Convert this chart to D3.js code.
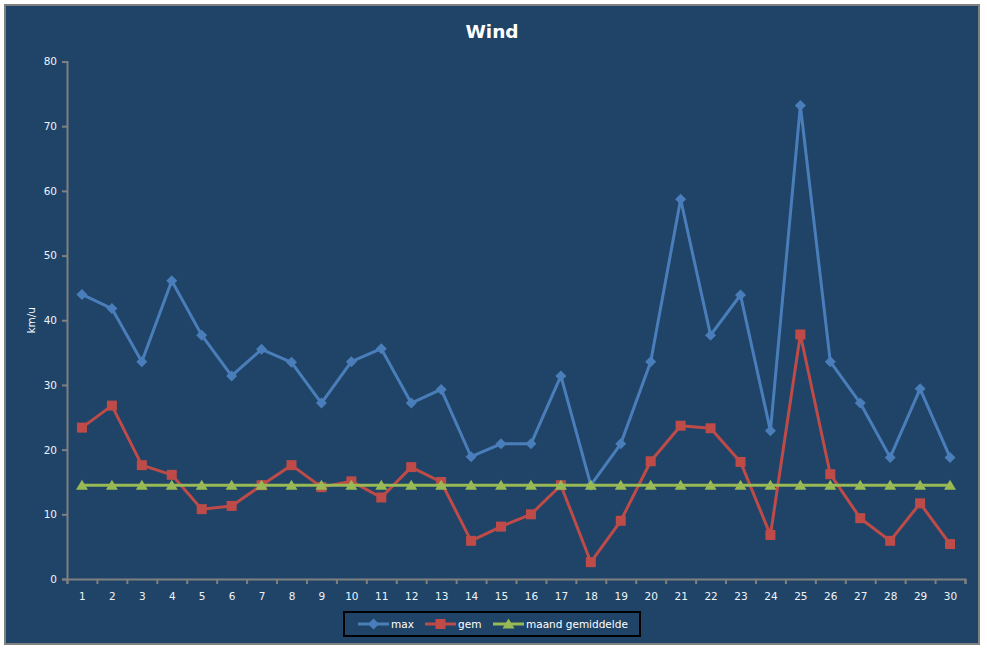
<!DOCTYPE html>
<html>
<head>
<meta charset="utf-8">
<script src="https://cdn.jsdelivr.net/npm/d3@7"></script>
<style>
  body { margin: 0; background: #fff; }
  svg text { font-family: "DejaVu Sans", Verdana, sans-serif; }
</style>
</head>
<body>
<script>
// data
const days = d3.range(1, 31);
const maxWind = [44, 41.8, 33.6, 46.1, 37.7, 31.4, 35.5, 33.5, 27.2, 33.6,
                 35.6, 27.2, 29.3, 18.9, 20.9, 20.9, 31.4, 14.5, 20.9, 33.6,
                 58.7, 37.7, 43.9, 22.9, 73.2, 33.6, 27.2, 18.8, 29.4, 18.8];
const gemWind = [23.4, 26.8, 17.6, 16.1, 10.8, 11.3, 14.5, 17.6, 14.2, 15.1,
                 12.6, 17.3, 15.0, 5.9, 8.1, 10.0, 14.5, 2.6, 9.0, 18.2,
                 23.7, 23.3, 18.1, 6.8, 37.8, 16.2, 9.4, 5.9, 11.7, 5.4];
const maandGem = days.map(() => 14.5);
const yTicks = [0, 10, 20, 30, 40, 50, 60, 70, 80];

const series = [
  { name: "max", values: maxWind, color: "#4A7EBB", symbol: "diamond" },
  { name: "gem", values: gemWind, color: "#BE4B48", symbol: "square" },
  { name: "maand gemiddelde", values: maandGem, color: "#98B954", symbol: "triangle" }
];

const width = 987, height = 648;
const bg = "#1F4467";
const plot = { left: 67, right: 965, top: 61.5, bottom: 579 };

const svg = d3.select("body").append("svg")
  .attr("width", width)
  .attr("height", height);

svg.append("rect")
  .attr("x", 5).attr("y", 5)
  .attr("width", 974).attr("height", 639)
  .attr("fill", bg)
  .attr("stroke", "#808080")
  .attr("stroke-width", 2);

svg.append("text")
  .attr("x", 492).attr("y", 38)
  .attr("text-anchor", "middle")
  .attr("fill", "#fff")
  .attr("font-size", 18.5)
  .attr("font-weight", "bold")
  .text("Wind");

const x = d3.scaleLinear()
  .domain([0.5, 30.5])
  .range([plot.left, plot.right]);

const y = d3.scaleLinear()
  .domain([0, 80])
  .range([plot.bottom, plot.top]);

// y axis
const yAxis = svg.append("g")
  .attr("transform", `translate(${plot.left},0)`)
  .call(d3.axisLeft(y).tickValues(yTicks).tickSize(5).tickPadding(5));
yAxis.selectAll("path, line").attr("stroke", "#808080").attr("stroke-width", 2);
yAxis.selectAll("text").attr("fill", "#EEF3FA").attr("font-size", 10.5)
  .attr("font-family", "DejaVu Sans, Verdana, sans-serif");

// x axis: ticks on category boundaries, labels centred
const xAxis = svg.append("g")
  .attr("transform", `translate(0,${plot.bottom})`)
  .call(d3.axisBottom(x).tickValues(d3.range(0.5, 31, 1)).tickSize(5).tickFormat(""));
xAxis.selectAll("path, line").attr("stroke", "#808080").attr("stroke-width", 2);

const xLabels = svg.append("g")
  .attr("transform", `translate(0,${plot.bottom})`)
  .call(d3.axisBottom(x).tickValues(days).tickSize(0).tickPadding(14));
xLabels.select(".domain").remove();
xLabels.selectAll("text").attr("fill", "#EEF3FA").attr("font-size", 10.5)
  .attr("font-family", "DejaVu Sans, Verdana, sans-serif");

svg.append("text")
  .attr("transform", `translate(35,${(plot.top + plot.bottom) / 2}) rotate(-90)`)
  .attr("text-anchor", "middle")
  .attr("fill", "#fff")
  .attr("font-size", 10.5)
  .text("km/u");

function markerPath(sym) {
  if (sym === "diamond") return "M0,-5.5L5.5,0L0,5.5L-5.5,0Z";
  if (sym === "square") return "M-5,-5H5V5H-5Z";
  return "M0,-5.5L6,4.5H-6Z";
}

const line = d3.line()
  .x((d, i) => x(days[i]))
  .y(d => y(d));

series.forEach(s => {
  const g = svg.append("g");
  g.append("path")
    .datum(s.values)
    .attr("fill", "none")
    .attr("stroke", s.color)
    .attr("stroke-width", 3)
    .attr("stroke-linejoin", "round")
    .attr("d", line);
  g.selectAll("path.m")
    .data(s.values)
    .join("path")
    .attr("class", "m")
    .attr("transform", (d, i) => `translate(${x(days[i])},${y(d)})`)
    .attr("d", markerPath(s.symbol))
    .attr("fill", s.color);
});

// legend
const legend = svg.append("g");
legend.append("rect")
  .attr("x", 344).attr("y", 612)
  .attr("width", 296).attr("height", 24)
  .attr("fill", bg)
  .attr("stroke", "#000")
  .attr("stroke-width", 2);

const legendX = [358, 425, 493];
series.forEach((s, i) => {
  const lg = legend.append("g").attr("transform", `translate(${legendX[i]},624)`);
  lg.append("line")
    .attr("x1", 0).attr("x2", 31)
    .attr("stroke", s.color).attr("stroke-width", 3);
  lg.append("path")
    .attr("transform", "translate(15.5,0)")
    .attr("d", markerPath(s.symbol))
    .attr("fill", s.color);
  lg.append("text")
    .attr("x", 33).attr("y", 4)
    .attr("fill", "#fff")
    .attr("font-size", 10.5)
    .text(s.name);
});
</script>
</body>
</html>
